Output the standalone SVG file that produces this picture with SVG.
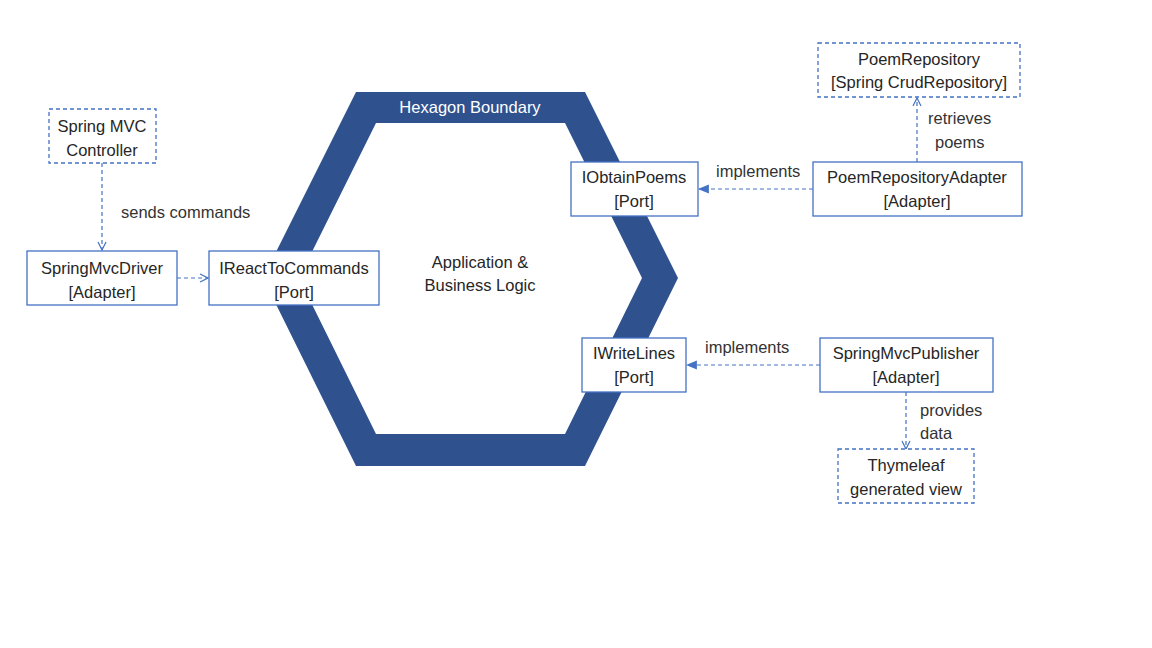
<svg xmlns="http://www.w3.org/2000/svg" width="1152" height="648" viewBox="0 0 1152 648">
<defs>
<style>
text{font-family:"Liberation Sans",Arial,sans-serif;font-size:16.5px;fill:#262626;text-anchor:middle}
.lbl{text-anchor:start;fill:#333}
.box{fill:#fff;stroke:#4472C4;stroke-width:1.3}
.dbox{fill:#fff;stroke:#4472C4;stroke-width:1.3;stroke-dasharray:4 3}
.conn{fill:none;stroke:#4472C4;stroke-width:1.2;stroke-dasharray:4 3}
</style>
<marker id="open" viewBox="0 0 10 10" refX="9" refY="5" markerWidth="10" markerHeight="10" markerUnits="userSpaceOnUse" orient="auto">
<path d="M1,1 L9,5 L1,9" fill="none" stroke="#4472C4" stroke-width="1.2"/>
</marker>
<marker id="tri" viewBox="0 0 10 10" refX="9" refY="5" markerWidth="11" markerHeight="11" markerUnits="userSpaceOnUse" orient="auto">
<path d="M0,1 L10,5 L0,9 Z" fill="#4472C4"/>
</marker>
</defs>
<rect width="1152" height="648" fill="#fff"/>
<g id="hexagon">
<path d="M356,92 L585,92 L678,278 L585,466 L356,466 L263,278 Z M376,123 L565,123 L642,278 L565,434 L376,434 L299,278 Z" fill="#2F528F" fill-rule="evenodd"/>
<text x="470" y="113" style="fill:#fff;font-size:16.5px">Hexagon Boundary</text>
<text x="480" y="268">Application &amp;</text>
<text x="480" y="291">Business Logic</text>
</g>
<g id="connectors">
<line class="conn" x1="102" y1="163" x2="102" y2="250" marker-end="url(#open)"/>
<text class="lbl" x="121" y="218">sends commands</text>
<line class="conn" x1="177" y1="278" x2="208" y2="278" marker-end="url(#open)"/>
<line class="conn" x1="917" y1="162" x2="917" y2="98" marker-end="url(#open)"/>
<text class="lbl" x="928" y="124">retrieves</text>
<text class="lbl" x="935" y="148">poems</text>
<line class="conn" x1="813" y1="189" x2="699" y2="189" marker-end="url(#tri)"/>
<text class="lbl" x="716" y="177">implements</text>
<line class="conn" x1="820" y1="365" x2="687" y2="365" marker-end="url(#tri)"/>
<text class="lbl" x="705" y="353">implements</text>
<line class="conn" x1="906" y1="392" x2="906" y2="449" marker-end="url(#open)"/>
<text class="lbl" x="920" y="416">provides</text>
<text class="lbl" x="920" y="439">data</text>
</g>
<g id="spring-mvc-controller">
<rect class="dbox" x="49" y="109" width="107" height="54"/>
<text x="102" y="132">Spring MVC</text>
<text x="102" y="156">Controller</text>
</g>
<g id="spring-mvc-driver">
<rect class="box" x="27" y="251" width="150" height="54"/>
<text x="102" y="274">SpringMvcDriver</text>
<text x="102" y="298">[Adapter]</text>
</g>
<g id="ireact-to-commands">
<rect class="box" x="209" y="251" width="170" height="54"/>
<text x="294" y="274">IReactToCommands</text>
<text x="294" y="298">[Port]</text>
</g>
<g id="poem-repository">
<rect class="dbox" x="818" y="43" width="202" height="54"/>
<text x="919" y="65">PoemRepository</text>
<text x="919" y="88">[Spring CrudRepository]</text>
</g>
<g id="poem-repository-adapter">
<rect class="box" x="813" y="162" width="209" height="54"/>
<text x="917" y="183">PoemRepositoryAdapter</text>
<text x="917" y="207">[Adapter]</text>
</g>
<g id="iobtain-poems">
<rect class="box" x="571" y="162" width="127" height="54"/>
<text x="634" y="183">IObtainPoems</text>
<text x="634" y="207">[Port]</text>
</g>
<g id="iwrite-lines">
<rect class="box" x="582" y="338" width="104" height="54"/>
<text x="634" y="359">IWriteLines</text>
<text x="634" y="383">[Port]</text>
</g>
<g id="spring-mvc-publisher">
<rect class="box" x="820" y="338" width="173" height="54"/>
<text x="906" y="359">SpringMvcPublisher</text>
<text x="906" y="383">[Adapter]</text>
</g>
<g id="thymeleaf-view">
<rect class="dbox" x="838" y="449" width="136" height="54"/>
<text x="906" y="471">Thymeleaf</text>
<text x="906" y="495">generated view</text>
</g>
</svg>
